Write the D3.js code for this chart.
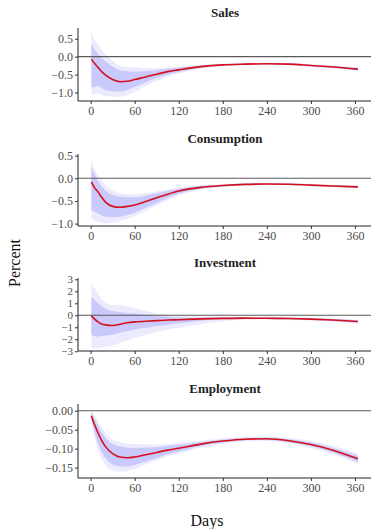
<!DOCTYPE html>
<html><head><meta charset="utf-8">
<script src="https://cdn.jsdelivr.net/npm/d3@7"></script>
<style>body{margin:0;background:#fff}svg{display:block}</style>
</head><body><svg id="c" width="371" height="529"></svg>
<script>
const days = [1,5,10,15,20,30,40,50,60,75,90,105,120,150,180,210,240,270,300,330,364];
const xTicks = [0,60,120,180,240,300,360];
const panelTitles = ["Sales","Consumption","Investment","Employment"];

const salesMean   = [-0.07,-0.18,-0.30,-0.42,-0.51,-0.64,-0.70,-0.69,-0.64,-0.57,-0.49,-0.42,-0.37,-0.28,-0.23,-0.21,-0.20,-0.21,-0.25,-0.29,-0.35];
const salesInHi   = [0.37,0.22,0.08,-0.04,-0.12,-0.28,-0.38,-0.41,-0.42,-0.41,-0.38,-0.34,-0.31,-0.25,-0.21,-0.19,-0.18,-0.19,-0.23,-0.27,-0.32];
const salesOutHi  = [0.68,0.48,0.35,0.20,0.08,-0.12,-0.26,-0.29,-0.30,-0.32,-0.32,-0.30,-0.28,-0.23,-0.19,-0.17,-0.17,-0.18,-0.21,-0.25,-0.30];
const salesInLo   = [-0.85,-0.85,-0.82,-0.87,-0.93,-0.97,-0.98,-0.93,-0.85,-0.72,-0.60,-0.50,-0.43,-0.31,-0.25,-0.23,-0.22,-0.23,-0.27,-0.31,-0.38];
const salesOutLo  = [-1.07,-1.05,-1.03,-1.07,-1.10,-1.12,-1.12,-1.07,-0.98,-0.82,-0.68,-0.56,-0.47,-0.33,-0.27,-0.25,-0.23,-0.24,-0.29,-0.33,-0.40];

const consMean    = [-0.08,-0.20,-0.30,-0.42,-0.52,-0.62,-0.64,-0.62,-0.59,-0.51,-0.43,-0.35,-0.28,-0.20,-0.16,-0.135,-0.125,-0.13,-0.15,-0.17,-0.19];
const consInHi    = [0.26,0.10,-0.07,-0.18,-0.27,-0.37,-0.41,-0.42,-0.42,-0.38,-0.33,-0.28,-0.23,-0.17,-0.14,-0.12,-0.11,-0.115,-0.135,-0.155,-0.175];
const consOutHi   = [0.42,0.22,0.07,-0.05,-0.15,-0.27,-0.33,-0.35,-0.35,-0.33,-0.29,-0.25,-0.21,-0.155,-0.13,-0.11,-0.10,-0.105,-0.125,-0.145,-0.165];
const consInLo    = [-0.70,-0.74,-0.77,-0.82,-0.85,-0.86,-0.85,-0.81,-0.76,-0.65,-0.54,-0.43,-0.34,-0.23,-0.18,-0.15,-0.14,-0.145,-0.165,-0.185,-0.205];
const consOutLo   = [-0.88,-0.92,-0.96,-0.98,-0.99,-0.98,-0.94,-0.90,-0.84,-0.72,-0.60,-0.48,-0.38,-0.25,-0.195,-0.16,-0.15,-0.155,-0.175,-0.195,-0.215];

const invMean     = [-0.05,-0.30,-0.55,-0.72,-0.80,-0.85,-0.75,-0.62,-0.55,-0.50,-0.45,-0.40,-0.37,-0.30,-0.26,-0.24,-0.25,-0.27,-0.32,-0.40,-0.52];
const invInHi     = [1.55,1.30,1.00,0.75,0.55,0.35,0.25,0.20,0.15,0.05,-0.05,-0.12,-0.18,-0.20,-0.18,-0.18,-0.19,-0.20,-0.25,-0.32,-0.42];
const invOutHi    = [2.70,2.30,1.80,1.35,1.05,0.85,0.85,0.75,0.60,0.35,0.15,0.03,-0.08,-0.12,-0.13,-0.14,-0.15,-0.16,-0.21,-0.28,-0.38];
const invInLo     = [-1.65,-1.72,-1.78,-1.72,-1.68,-1.62,-1.45,-1.32,-1.20,-1.05,-0.90,-0.78,-0.66,-0.45,-0.34,-0.30,-0.31,-0.34,-0.39,-0.48,-0.62];
const invOutLo    = [-2.72,-2.75,-2.75,-2.70,-2.65,-2.55,-2.30,-2.10,-1.90,-1.65,-1.40,-1.20,-1.05,-0.75,-0.50,-0.38,-0.36,-0.39,-0.44,-0.53,-0.68];

const empMean     = [-0.013,-0.035,-0.058,-0.078,-0.094,-0.113,-0.122,-0.124,-0.122,-0.116,-0.110,-0.104,-0.099,-0.088,-0.080,-0.075,-0.074,-0.079,-0.089,-0.104,-0.127];
const empInHi     = [-0.004,-0.020,-0.040,-0.057,-0.071,-0.087,-0.094,-0.097,-0.098,-0.097,-0.096,-0.093,-0.090,-0.083,-0.076,-0.072,-0.071,-0.075,-0.084,-0.098,-0.119];
const empOutHi    = [0.004,-0.012,-0.027,-0.044,-0.058,-0.075,-0.083,-0.087,-0.088,-0.089,-0.089,-0.088,-0.085,-0.079,-0.073,-0.069,-0.068,-0.072,-0.080,-0.093,-0.113];
const empInLo     = [-0.022,-0.052,-0.085,-0.108,-0.125,-0.142,-0.147,-0.147,-0.143,-0.134,-0.125,-0.115,-0.108,-0.093,-0.084,-0.078,-0.077,-0.083,-0.094,-0.110,-0.135];
const empOutLo    = [-0.028,-0.068,-0.103,-0.127,-0.143,-0.158,-0.161,-0.159,-0.154,-0.142,-0.131,-0.120,-0.113,-0.097,-0.087,-0.081,-0.080,-0.086,-0.098,-0.115,-0.141];

const salesTicks = [0.5,0.0,-0.5,-1.0];
const consTicks  = [0.5,0.0,-0.5,-1.0];
const invTicks   = [3,2,1,0,-1,-2,-3];
const empTicks   = [0.00,-0.05,-0.10,-0.15];

const panels = [
  {title:panelTitles[0], mean:salesMean, inHi:salesInHi, outHi:salesOutHi, inLo:salesInLo, outLo:salesOutLo, ticks:salesTicks, fmt:".1f", fs:12, dom:[-1.24,0.80], top:28, bot:101},
  {title:panelTitles[1], mean:consMean, inHi:consInHi, outHi:consOutHi, inLo:consInLo, outLo:consOutLo, ticks:consTicks, fmt:".1f", fs:12, dom:[-1.053,0.536], top:154, bot:226},
  {title:panelTitles[2], mean:invMean, inHi:invInHi, outHi:invOutHi, inLo:invInLo, outLo:invOutLo, ticks:invTicks, fmt:"d", fs:11, dom:[-2.98,3.11], top:278, bot:351},
  {title:panelTitles[3], mean:empMean, inHi:empInHi, outHi:empOutHi, inLo:empInLo, outLo:empOutLo, ticks:empTicks, fmt:".2f", fs:12, dom:[-0.1776,0.018], top:404, bot:478}
];

const svg = d3.select("#c");
const font = "'Liberation Serif', 'DejaVu Serif', serif";
const x = d3.scaleLinear().domain([-17.2, 383.2]).range([78, 372]);

panels.forEach(p => {
  const y = d3.scaleLinear().domain(p.dom).range([p.bot, p.top]);
  const g = svg.append("g");
  const rows = days.map((d,i)=>({d, m:p.mean[i], ih:p.inHi[i], oh:p.outHi[i], il:p.inLo[i], ol:p.outLo[i]}));
  const curve = d3.curveMonotoneX;
  g.append("path").datum(rows).attr("fill","#ebebfd")
    .attr("d", d3.area().curve(curve).x(r=>x(r.d)).y0(r=>y(r.ol)).y1(r=>y(r.oh)));
  g.append("path").datum(rows).attr("fill","#c9c9fb")
    .attr("d", d3.area().curve(curve).x(r=>x(r.d)).y0(r=>y(r.il)).y1(r=>y(r.ih)));
  g.append("line").attr("x1",78).attr("x2",372).attr("y1",y(0)).attr("y2",y(0))
    .attr("stroke","#5a5a5a").attr("stroke-width",1.1);
  g.append("path").datum(rows).attr("fill","none").attr("stroke","#d4101c").attr("stroke-width",1.6)
    .attr("d", d3.line().curve(curve).x(r=>x(r.d)).y(r=>y(r.m)));

  const ya = g.append("g").attr("transform","translate(78,0)")
    .call(d3.axisLeft(y).tickValues(p.ticks).tickFormat(d3.format(p.fmt)).tickSize(3).tickPadding(2));
  const xa = g.append("g").attr("transform",`translate(0,${p.bot})`)
    .call(d3.axisBottom(x).tickValues(xTicks).tickFormat(d3.format("d")).tickSize(3).tickPadding(2));
  [ya,xa].forEach(a=>{
    a.attr("font-family",font);
    a.select(".domain").attr("stroke","#222").attr("stroke-width",1);
    a.selectAll(".tick line").attr("stroke","#333");
    a.selectAll("text").attr("fill","#4d4d4d").style("font-family",font).style("font-size","12px");
  });
  ya.selectAll("text").style("font-size", p.fs + "px");
  ya.select(".domain").attr("d",`M0,${p.top}V${p.bot}`);
  xa.select(".domain").attr("d",`M78,0H372`);

  svg.append("text").attr("x",225).attr("y",p.top-11).attr("text-anchor","middle")
    .style("font-family",font).style("font-size","13px").style("font-weight","bold").attr("fill","#222")
    .text(p.title);
});

svg.append("text").attr("transform","translate(20,263) rotate(-90)").attr("text-anchor","middle")
  .style("font-family",font).style("font-size","16px").attr("fill","#111").text("Percent");
svg.append("text").attr("x",207).attr("y",526).attr("text-anchor","middle")
  .style("font-family",font).style("font-size","16px").attr("fill","#111").text("Days");
</script></body></html>
